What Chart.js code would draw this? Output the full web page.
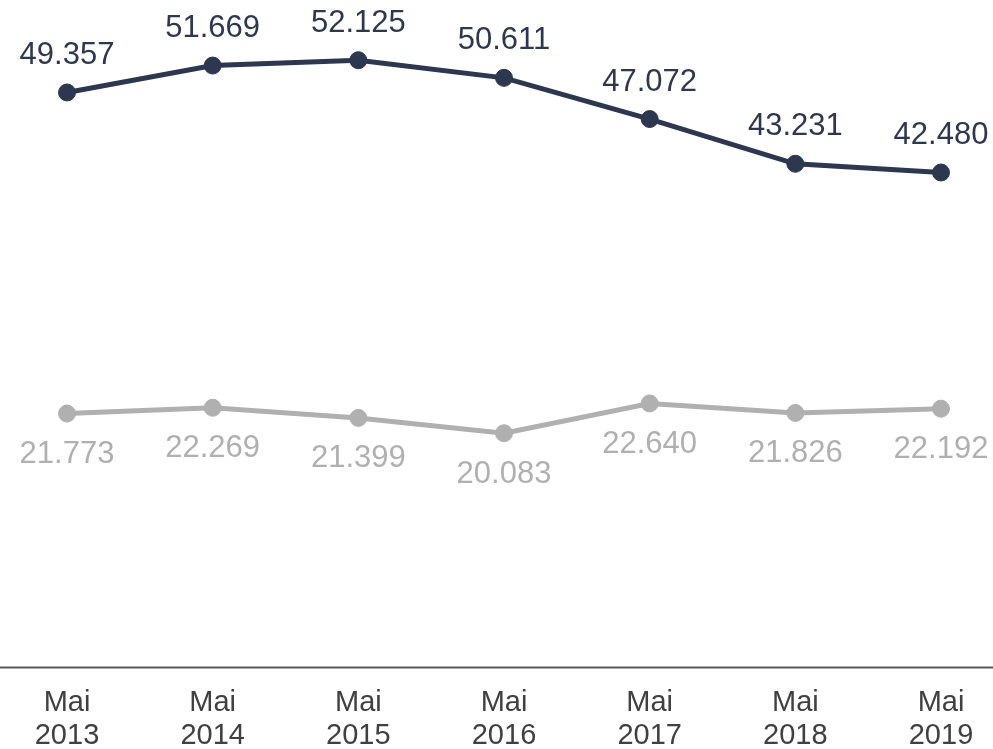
<!DOCTYPE html>
<html>
<head>
<meta charset="utf-8">
<script src="https://cdn.jsdelivr.net/npm/chart.js@4/dist/chart.umd.min.js"></script>
<style>
  html, body { margin: 0; padding: 0; background: #ffffff; }
  #wrap { width: 993px; height: 749px; position: relative; }
</style>
</head>
<body>
<div id="wrap"><canvas id="c" width="993" height="749"></canvas></div>
<script>
const monthLabel = 'Mai';
const years = ['2013', '2014', '2015', '2016', '2017', '2018', '2019'];
const seriesDark = [49357, 51669, 52125, 50611, 47072, 43231, 42480];
const seriesGray = [21773, 22269, 21399, 20083, 22640, 21826, 22192];

const colorDark = '#2d3850';
const colorGray = '#b0b0b0';
const FONT = '"Liberation Sans", Arial, sans-serif';

function fmt(v) {
  const s = String(Math.round(v));
  return s.replace(/\B(?=(\d{3})+(?!\d))/g, '.');
}

const categories = years.map(y => [monthLabel, y]);

const labelPlugin = {
  id: 'valueLabels',
  afterDatasetsDraw(chart) {
    const ctx = chart.ctx;
    ctx.save();
    ctx.font = '31px ' + FONT;
    ctx.textAlign = 'center';
    ctx.textBaseline = 'middle';
    chart.data.datasets.forEach((ds, i) => {
      const meta = chart.getDatasetMeta(i);
      const above = ds.labelPos === 'above';
      ctx.fillStyle = ds.labelColor;
      meta.data.forEach((pt, j) => {
        const y = above ? pt.y - 37 : pt.y + 41;
        ctx.fillText(fmt(ds.data[j]), pt.x, y);
      });
    });
    ctx.restore();
  }
};

const axisLinePlugin = {
  id: 'axisLine',
  beforeDatasetsDraw(chart) {
    const ctx = chart.ctx;
    const y = chart.chartArea.bottom + 0.5;
    ctx.save();
    ctx.strokeStyle = '#595959';
    ctx.lineWidth = 2;
    ctx.beginPath();
    ctx.moveTo(0, y);
    ctx.lineTo(chart.width, y);
    ctx.stroke();
    ctx.restore();
  }
};

new Chart(document.getElementById('c'), {
  type: 'line',
  data: {
    labels: categories,
    datasets: [
      {
        data: seriesDark,
        borderColor: colorDark,
        backgroundColor: colorDark,
        pointBackgroundColor: colorDark,
        pointBorderColor: colorDark,
        borderWidth: 5,
        pointRadius: 8.5,
        pointBorderWidth: 1,
        tension: 0,
        labelPos: 'above',
        labelColor: colorDark
      },
      {
        data: seriesGray,
        borderColor: colorGray,
        backgroundColor: colorGray,
        pointBackgroundColor: colorGray,
        pointBorderColor: colorGray,
        borderWidth: 5,
        pointRadius: 8.5,
        pointBorderWidth: 1,
        tension: 0,
        labelPos: 'below',
        labelColor: colorGray
      }
    ]
  },
  options: {
    responsive: false,
    animation: false,
    devicePixelRatio: 1,
    layout: { autoPadding: false, padding: { left: 67, right: 52, top: 0, bottom: 0 } },
    plugins: {
      legend: { display: false },
      tooltip: { enabled: false }
    },
    scales: {
      x: {
        offset: false,
        grid: { display: false, drawTicks: false },
        border: { display: false },
        ticks: {
          color: '#404040',
          font: { size: 29, family: FONT, lineHeight: 1.15 },
          padding: 19,
          maxRotation: 0,
          autoSkip: false
        },
        afterFit(scale) { scale.height = 82; }
      },
      y: {
        display: false,
        min: 0,
        max: 57300
      }
    }
  },
  plugins: [axisLinePlugin, labelPlugin]
});
</script>
</body>
</html>
